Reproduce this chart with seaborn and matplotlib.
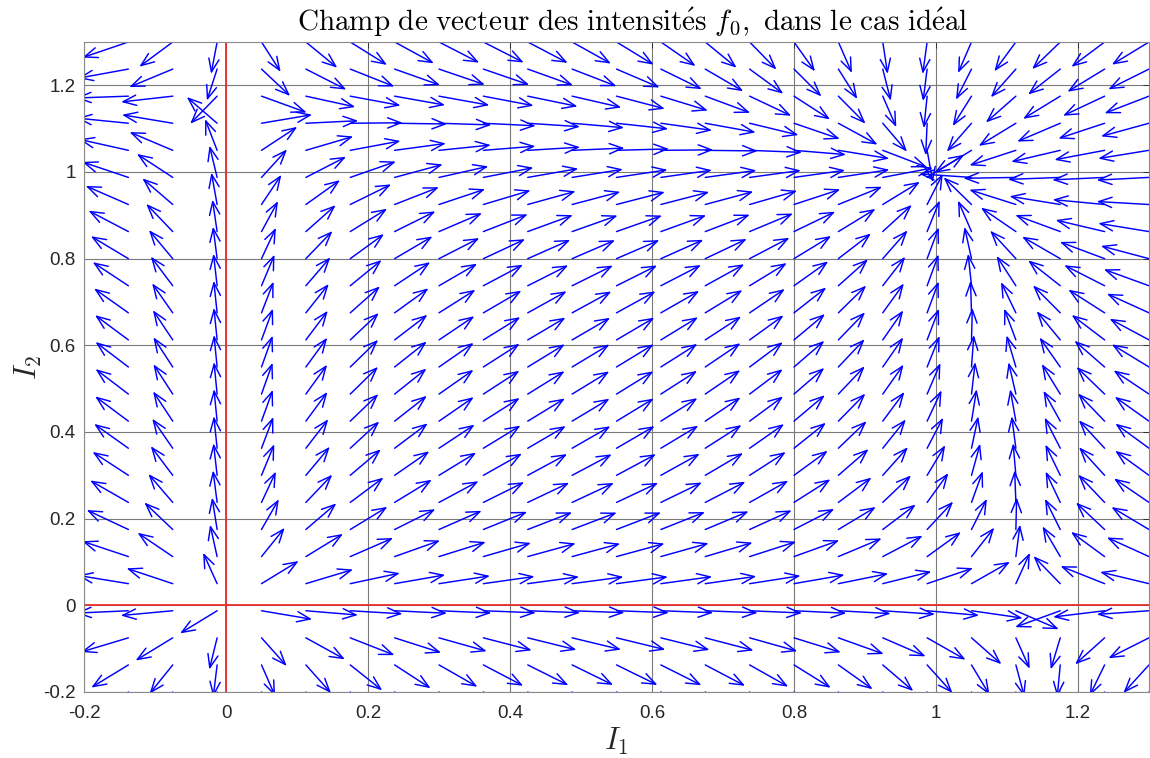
import numpy as np
import matplotlib
matplotlib.use("Agg")
import matplotlib.pyplot as plt
from matplotlib.patches import FancyArrowPatch
import seaborn as sns

# ---- data -----------------------------------------------------------------
# sampling grid of the field (25 x 25 points from -0.2 to 1.3)
i1_grid = np.linspace(-0.2, 1.3, 25)
i2_grid = np.linspace(-0.2, 1.3, 25)
# ideal-case saturable-gain model f0: cross saturation beta, gain = 2 + beta
beta = [0.14]
x_ticks = [-0.2, 0, 0.2, 0.4, 0.6, 0.8, 1, 1.2]
y_ticks = [-0.2, 0, 0.2, 0.4, 0.6, 0.8, 1, 1.2]
x_ticklabels = ["-0.2", "0", "0.2", "0.4", "0.6", "0.8", "1", "1.2"]
y_ticklabels = ["-0.2", "0", "0.2", "0.4", "0.6", "0.8", "1", "1.2"]
title = (r"$\mathrm{Champ\ de\ vecteur\ des\ intensit{\acute{e}}s}\ f_0"
         r"\mathrm{,\ dans\ le\ cas\ id{\acute{e}}al}$")

# ---- style ----------------------------------------------------------------
sns.set_theme(style="white")
plt.rcParams["font.family"] = ["Liberation Sans", "DejaVu Sans"]
plt.rcParams["mathtext.fontset"] = "cm"

fig = plt.figure(figsize=(11.5, 7.58), dpi=100)
ax = fig.add_axes([84 / 1150, 1 - 692 / 758, 1065 / 1150, 650 / 758])

X, Y = np.meshgrid(i1_grid, i2_grid)
b = beta[0]
g = 2 + b
U = X * (g / (1 + X + b * Y) - 1)
V = Y * (g / (1 + Y + b * X) - 1)
N = np.hypot(U, V)
N[N == 0] = 1
L = 0.074
U = U / N * L
V = V / N * L

ax.set_xlim(-0.2, 1.3)
ax.set_ylim(-0.2, 1.3)

ax.grid(True, color="#7a7a7a", linewidth=0.8, zorder=0)
ax.set_axisbelow(True)

ax.axhline(0, color="#e8302c", linewidth=1.3, zorder=1)
ax.axvline(0, color="#e8302c", linewidth=1.3, zorder=1)

for x0, y0, u, v in zip(X.ravel(), Y.ravel(), U.ravel(), V.ravel()):
    arr = FancyArrowPatch((x0, y0), (x0 + u, y0 + v),
                          arrowstyle="->,head_length=0.95,head_width=0.37",
                          mutation_scale=10, shrinkA=0, shrinkB=0,
                          color="#0000ff", linewidth=1.05, zorder=2)
    ax.add_patch(arr)

ax.set_xticks(x_ticks)
ax.set_xticklabels(x_ticklabels)
ax.set_yticks(y_ticks)
ax.set_yticklabels(y_ticklabels)
ax.tick_params(direction="in", length=4, width=0.6, colors="#262626",
               labelsize=13.5, top=True, right=True)
ax.tick_params(axis="x", pad=9)
ax.tick_params(axis="y", pad=6)
for s in ax.spines.values():
    s.set_color("#8a8a8a")
    s.set_linewidth(0.8)

ax.set_title(title, fontsize=21, pad=8, color="black", x=0.515)
ax.set_xlabel("$I_1$", fontsize=22, labelpad=3)
ax.set_ylabel("$I_2$", fontsize=22, labelpad=-1)

fig.savefig("out.png", dpi=100, facecolor="white")
